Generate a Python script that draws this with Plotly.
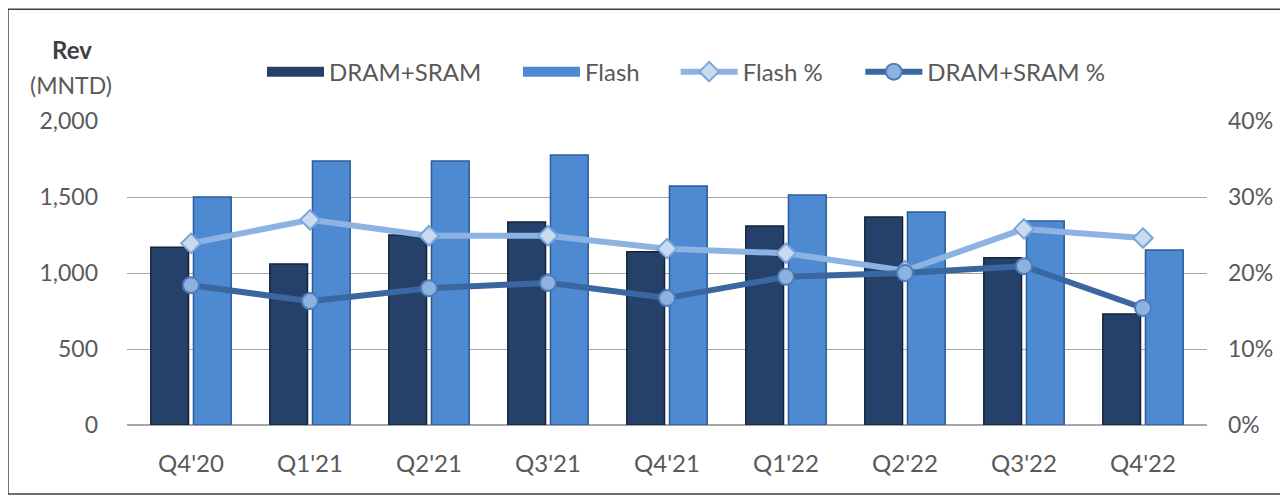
import plotly.graph_objects as go

quarters = ["Q4'20", "Q1'21", "Q2'21", "Q3'21", "Q4'21", "Q1'22", "Q2'22", "Q3'22", "Q4'22"]
dram_rev = [1170, 1060, 1250, 1336, 1140, 1310, 1368, 1100, 730]
flash_rev = [1500, 1737, 1737, 1776, 1572, 1513, 1401, 1342, 1151]
flash_pct = [0.239, 0.270, 0.249, 0.249, 0.232, 0.226, 0.203, 0.258, 0.246]
dram_pct = [0.184, 0.163, 0.180, 0.187, 0.167, 0.195, 0.200, 0.209, 0.154]

FONT = "Lato, 'Open Sans', sans-serif"
GREY = "#595959"
DRAM_C, DRAM_L = "#25416A", "#14243D"
FLASH_C, FLASH_L = "#4E8AD2", "#2B5C99"

fig = go.Figure()
fig.add_trace(go.Bar(x=quarters, y=dram_rev, name="DRAM+SRAM", showlegend=False,
                     marker=dict(color=DRAM_C, line=dict(color=DRAM_L, width=1.5))))
fig.add_trace(go.Bar(x=quarters, y=flash_rev, name="Flash", showlegend=False,
                     marker=dict(color=FLASH_C, line=dict(color=FLASH_L, width=1.5))))
fig.add_trace(go.Scatter(
    x=quarters, y=flash_pct, name="Flash %", yaxis="y2", mode="lines+markers",
    legend="legend3",
    line=dict(color="#8DB3E2", width=6),
    marker=dict(symbol="diamond", size=15, color="#C9DBF1", line=dict(color="#7BA4D9", width=2)),
))
fig.add_trace(go.Scatter(
    x=quarters, y=dram_pct, name="DRAM+SRAM %", yaxis="y2", mode="lines+markers",
    legend="legend4",
    line=dict(color="#3A679F", width=6),
    marker=dict(symbol="circle", size=16, color="#8DB2E0", line=dict(color="#4E7DB9", width=2)),
))
# legend swatches for the bar series (wide rectangles like the original)
fig.add_trace(go.Scatter(x=[None], y=[None], name="DRAM+SRAM", mode="lines",
                         line=dict(color=DRAM_C, width=16), legend="legend"))
fig.add_trace(go.Scatter(x=[None], y=[None], name="Flash", mode="lines",
                         line=dict(color=FLASH_C, width=16), legend="legend2"))

LY = 1.161
leg_common = dict(orientation="h", y=LY, yanchor="middle", xanchor="left",
                  font=dict(size=24, color=GREY), bgcolor="rgba(0,0,0,0)", itemwidth=57)

fig.update_layout(
    width=1280, height=490,
    margin=dict(l=119, r=81, t=113, b=73),
    paper_bgcolor="white", plot_bgcolor="white",
    font=dict(family=FONT, size=23, color=GREY),
    barmode="group", bargap=0.283, bargroupgap=0.116,
    showlegend=True,
    legend=dict(x=0.125, **leg_common),
    legend2=dict(x=0.362, **leg_common),
    legend3=dict(x=0.508, **leg_common),
    legend4=dict(x=0.679, **leg_common),
    xaxis=dict(showgrid=False, showline=False, ticks="", ticklabelstandoff=22,
               tickfont=dict(size=24, color=GREY)),
    yaxis=dict(range=[0, 2000], tickvals=[0, 500, 1000, 1500, 2000], tickformat=",",
               showgrid=True, gridcolor="#A6A6A6", gridwidth=1, zeroline=True,
               zerolinecolor="#A6A6A6", ticks="", ticklabelstandoff=28,
               tickfont=dict(size=23, color=GREY)),
    yaxis2=dict(range=[0, 0.4], tickvals=[0, 0.1, 0.2, 0.3, 0.4], tickformat=".0%",
                overlaying="y", side="right", showgrid=False, zeroline=False,
                ticks="", ticklabelstandoff=20, tickfont=dict(size=23, color=GREY)),
    annotations=[
        dict(text="<b>Rev</b>", x=-0.051, y=1.234, xref="paper", yref="paper",
             xanchor="center", yanchor="middle",
             showarrow=False, font=dict(size=24, color="#404040")),
        dict(text="(MNTD)", x=-0.052, y=1.12, xref="paper", yref="paper",
             xanchor="center", yanchor="middle",
             showarrow=False, font=dict(size=23, color=GREY)),
    ],
    shapes=[dict(type="rect", xref="paper", yref="paper", x0=-0.1102, x1=1.0704,
                 y0=-0.227, y1=1.368, line=dict(color="#404040", width=1.5),
                 fillcolor="rgba(0,0,0,0)", layer="below")],
)

fig.write_html("out.html")
